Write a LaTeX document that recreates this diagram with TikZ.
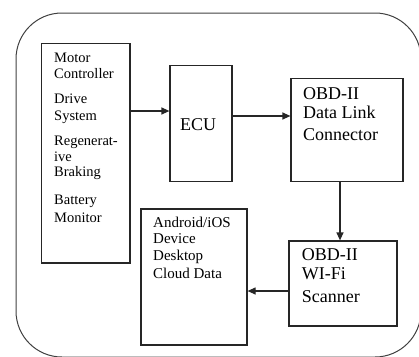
\documentclass[tikz,border=0pt]{standalone}
\usepackage{fontspec}
\setmainfont{Liberation Serif}
\usetikzlibrary{arrows.meta}
\begin{document}
\begin{tikzpicture}[x=1pt,y=-1pt,
  box/.style={draw=black!85,line width=1.2pt,minimum width=#1,inner sep=0pt},
  arr/.style={draw=black!85,line width=1.2pt,-{Triangle[length=8pt,width=7pt]}},
  small/.style={anchor=base west,inner sep=0pt,font=\fontsize{14.5}{16}\selectfont},
  mid/.style={anchor=base west,inner sep=0pt,font=\fontsize{15}{17}\selectfont},
  big/.style={anchor=base west,inner sep=0pt,font=\fontsize{18}{20}\selectfont}]
\useasboundingbox (0,0) rectangle (419,356);
% outer frame
\draw[black!75,line width=1pt,rounded corners=46pt] (16,13) rectangle (421,357);

% blocks
\node[box=88.3pt,minimum height=219.7pt] (ctrl) at (85.85,153.15) {};
\node[box=62pt,minimum height=116pt] (ecu) at (201,123.7) {};
\node[box=112pt,minimum height=103pt] (dlc) at (347,130.2) {};
\node[box=106pt,minimum height=136pt] (dev) at (194,277) {};
\node[box=108pt,minimum height=85pt] (scan) at (343,283.5) {};

% texts of the vehicle subsystems block
\node[small] (t1) at (54,62.7) {Motor};
\node[small] (t2) at (54,78.3) {Controller};
\node[small] (t3) at (54,103.3) {Drive};
\node[small] (t4) at (54,120) {System};
\node[small] (t5) at (54,145.7) {Regenerat-};
\node[small] (t6) at (54,161.7) {ive};
\node[small] (t7) at (54,176.7) {Braking};
\node[small] (t8) at (54,204) {Battery};
\node[small] (t9) at (54,222.7) {Monitor};

% ECU
\node[big,anchor=base] (tecu) at (198,130) {ECU};

% data link connector
\node[big] (d1) at (303,99.3) {OBD-II};
\node[big] (d2) at (303,118.3) {Data Link};
\node[big] (d3) at (303,140.7) {Connector};

% scanner
\node[big] (s1) at (301.7,260.7) {OBD-II};
\node[big] (s2) at (301.7,279.3) {WI-Fi};
\node[big] (s3) at (301.7,302.7) {Scanner};

% devices
\node[mid] (v1) at (153,227.3) {Android/iOS};
\node[mid] (v2) at (153,243.3) {Device};
\node[mid] (v3) at (153,260) {Desktop};
\node[mid] (v4) at (153,278.3) {Cloud Data};

% connectors
\coordinate (y1) at (0,111);
\coordinate (y2) at (0,116);
\coordinate (x3) at (340,0);
\coordinate (y4) at (0,291);
\draw[arr] (ctrl.east |- y1) -- (ecu.west |- y1);
\draw[arr] (ecu.east |- y2) -- (dlc.west |- y2);
\draw[arr] (dlc.south -| x3) -- (scan.north -| x3);
\draw[arr] (scan.west |- y4) -- (dev.east |- y4);
\end{tikzpicture}
\end{document}
